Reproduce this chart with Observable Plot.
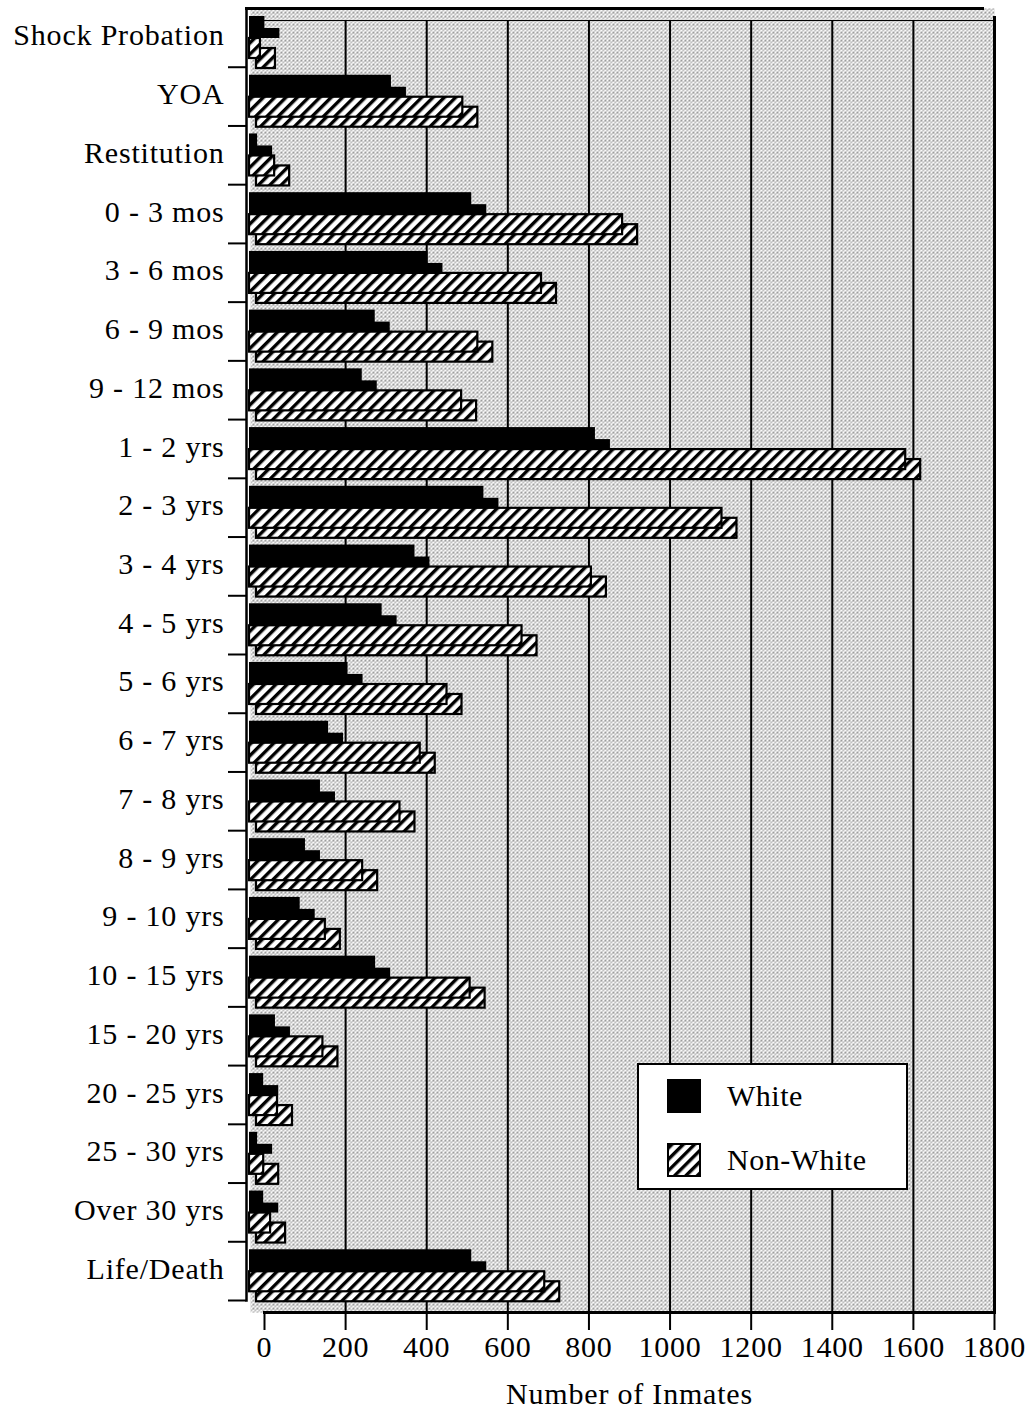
<!DOCTYPE html>
<html>
<head>
<meta charset="utf-8">
<script src="https://cdn.jsdelivr.net/npm/d3@7"></script>
<script src="https://cdn.jsdelivr.net/npm/@observablehq/plot@0.6"></script>
<style>
  body { margin: 0; background: #fff; }
  #wrap { position: relative; width: 1030px; height: 1411px; }
  #wrap svg.plot { display: block; }
  .legend { position: absolute; left: 637px; top: 1063px; width: 267px; height: 123px;
    border: 2px solid #000; background: #fff; font-family: "Liberation Serif", serif; font-size: 30px; letter-spacing: 0.5px; }
  .legend .item { position: absolute; left: 28px; height: 36px; display: flex; align-items: center; }
  .legend .sw { width: 34px; height: 34px; box-sizing: border-box; margin-right: 26px; }
</style>
</head>
<body>
<svg width="0" height="0" style="position:absolute">
  <defs>
    <pattern id="stip" width="4" height="4" patternUnits="userSpaceOnUse">
      <rect width="4" height="4" fill="#fafafa"/>
      <rect x="0" y="0" width="1" height="1" fill="#2a2a2a"/>
      <rect x="2" y="1" width="1" height="1" fill="#666"/>
      <rect x="1" y="3" width="1" height="1" fill="#555"/>
      <rect x="3" y="2" width="1" height="1" fill="#aaa"/>
    </pattern>
    <pattern id="hatch" width="8" height="8" patternUnits="userSpaceOnUse" patternTransform="rotate(45)">
      <rect width="8" height="8" fill="#fff"/>
      <rect x="0" y="0" width="3.4" height="8" fill="#000"/>
    </pattern>
  </defs>
</svg>
<div id="wrap"></div>
<script>
// ---- data ----
const categories = ["Shock Probation", "YOA", "Restitution", "0 - 3 mos", "3 - 6 mos", "6 - 9 mos",
  "9 - 12 mos", "1 - 2 yrs", "2 - 3 yrs", "3 - 4 yrs", "4 - 5 yrs", "5 - 6 yrs", "6 - 7 yrs",
  "7 - 8 yrs", "8 - 9 yrs", "9 - 10 yrs", "10 - 15 yrs", "15 - 20 yrs", "20 - 25 yrs",
  "25 - 30 yrs", "Over 30 yrs", "Life/Death"];
const white    = [38, 350, 20, 548, 440, 310, 278, 853, 578, 408, 327, 243, 195, 175, 138, 125, 311, 64, 35, 20, 35, 548];
const nonWhite = [27, 526, 62, 920, 720, 563, 523, 1618, 1165, 843, 672, 487, 421, 371, 279, 187, 544, 181, 69, 35, 52, 728];
const series = ["White", "Non-White"];
const xTicks = [0, 200, 400, 600, 800, 1000, 1200, 1400, 1600, 1800];
const xLabel = "Number of Inmates";

const rows = categories.map((c, i) => ({category: c, white: white[i], nonWhite: nonWhite[i]}));

const W = 1030, H = 1411, mT = 8, mB = 111, mL = 264, mR = 36;
const bh = (H - mT - mB) / categories.length;
const depthX = 15;
const font = "Liberation Serif, Times New Roman, serif";

const chart = Plot.plot({
  width: W, height: H,
  marginLeft: mL, marginRight: mR, marginTop: mT, marginBottom: mB,
  x: {domain: [0, 1800]},
  y: {type: "band", domain: categories, padding: 0, round: false},
  style: {fontFamily: font, fontSize: "30px", color: "#000", background: "transparent", letterSpacing: "0.8px"},
  marks: [
    // stippled back wall
    Plot.frame({fill: "url(#stip)", stroke: null, insetLeft: -14, insetBottom: -12}),
    // grid lines on back wall
    Plot.gridX(xTicks.slice(1, -1), {stroke: "#000", strokeOpacity: 1, strokeWidth: 2, insetTop: 12, insetBottom: -12}),
    // walls / frame lines
    Plot.frame({anchor: "top", stroke: "#000", strokeWidth: 3, insetLeft: -18, insetRight: 12}),
    Plot.frame({anchor: "top", stroke: "#000", strokeWidth: 1.2, insetTop: 12, insetLeft: -14}),
    Plot.frame({anchor: "right", stroke: "#000", strokeWidth: 3, insetTop: 9, insetBottom: -12}),
    Plot.frame({anchor: "bottom", stroke: "#000", strokeWidth: 3, insetBottom: -12}),
    Plot.frame({anchor: "left", stroke: "#000", strokeWidth: 2.5, insetLeft: -18}),
    // White bars (solid black, with depth)
    Plot.barX(rows, {y: "category", x: "white", fill: "#000", insetTop: 20, insetBottom: bh - 30, insetLeft: -depthX}),
    Plot.barX(rows, {y: "category", x: "white", fill: "#000", insetTop: 8, insetBottom: bh - 30, dx: -depthX}),
    // Non-White bars (hatched, with depth)
    Plot.barX(rows, {y: "category", x: "nonWhite", fill: "url(#hatch)", stroke: "#000", strokeWidth: 2.2,
      insetTop: 40, insetBottom: bh - 60, insetLeft: -8}),
    Plot.barX(rows, {y: "category", x: "nonWhite", fill: "url(#hatch)", stroke: "#000", strokeWidth: 2.2,
      insetTop: 30, insetBottom: bh - 50, dx: -depthX}),
    // y axis: tick marks at band boundaries, then labels
    Plot.axisY({tickSize: 18, dx: -18, dy: bh / 2, tickFormat: () => "", label: null, strokeWidth: 2}),
    Plot.axisY({tickSize: 0, tickPadding: 40, dy: -2, label: null, fontSize: 30}),
    // x axis
    Plot.axisX(xTicks, {anchor: "bottom", tickSize: 18, dy: 12, tickPadding: 5, strokeWidth: 2, label: null,
      fontSize: 30, tickFormat: d => String(d)}),
    Plot.text([xLabel], {frameAnchor: "bottom", dy: 94, fontSize: 30, lineAnchor: "middle"})
  ]
});
chart.classList.add("plot");
const wrap = document.getElementById("wrap");
wrap.appendChild(chart);

// legend
const legend = d3.select(wrap).append("div").attr("class", "legend");
series.forEach((s, i) => {
  const item = legend.append("div").attr("class", "item").style("top", (13 + i * 64) + "px");
  const sw = item.append("div").attr("class", "sw").style("border", "2px solid #000");
  if (i === 0) sw.style("background", "#000");
  else sw.append("svg").attr("width", 30).attr("height", 30).style("display", "block")
    .append("rect").attr("width", 30).attr("height", 30).attr("fill", "url(#hatch)");
  item.append("span").text(s);
});
</script>
</body>
</html>
